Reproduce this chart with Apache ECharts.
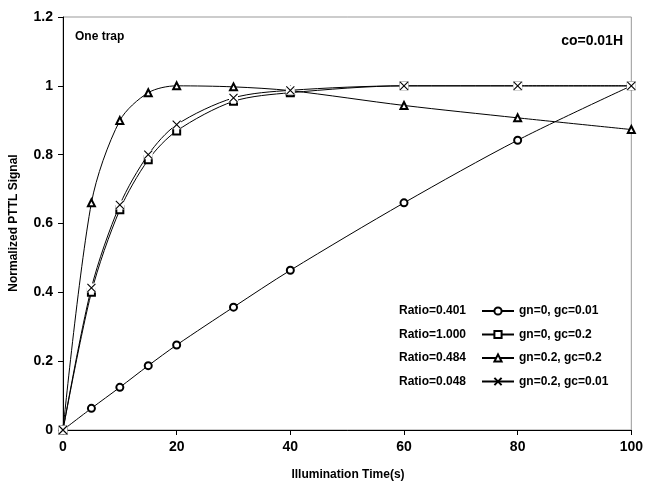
<!DOCTYPE html>
<html>
<head>
<meta charset="utf-8">
<script src="https://cdn.jsdelivr.net/npm/echarts@6/dist/echarts.min.js"></script>
<style>
  html, body { margin: 0; padding: 0; background: #fff; }
  #chart { width: 646px; height: 486px; }
</style>
</head>
<body>
<div id="chart"></div>
<script>
/* PTTL signal vs illumination time, one trap, four gn/gc combinations. */
const times = [0, 5, 10, 15, 20, 30, 40, 60, 80, 100];
const circleVals = [0, 0.063, 0.124, 0.187, 0.247, 0.357, 0.464, 0.66, 0.842, 1.0];
const squareVals = [0, 0.40, 0.64, 0.785, 0.869, 0.955, 0.98, 1.0, 1.0, 1.0];
const triangleVals = [0, 0.66, 0.899, 0.98, 1.0, 0.997, 0.986, 0.943, 0.907, 0.873];
const crossVals = [0, 0.413, 0.654, 0.80, 0.887, 0.965, 0.987, 1.0, 1.0, 1.0];
const seriesNames = ["gn=0, gc=0.01", "gn=0, gc=0.2", "gn=0.2, gc=0.2", "gn=0.2, gc=0.01"];
const ratios = ["Ratio=0.401", "Ratio=1.000", "Ratio=0.484", "Ratio=0.048"];
const yTicks = [0, 0.2, 0.4, 0.6, 0.8, 1, 1.2];

const FONT = "'Liberation Sans', Arial, sans-serif";
const CROSS = "path://M0,0L10,10M10,0L0,10";
const pair = (vals) => vals.map((v, i) => [times[i], v]);
const ROW0 = 311, ROWGAP = 23.5; // legend row centres

// empty* symbols stroke with itemStyle.color and fill white; the path cross needs fill/border split
const mk = (name, vals, symbol, size) => ({
  name, type: "line", data: pair(vals), smooth: 0.3,
  symbol, symbolSize: size, showSymbol: true,
  lineStyle: { color: "#000", width: 1 },
  itemStyle: symbol === CROSS
    ? { color: "#fff", borderColor: "#000", borderWidth: 1.1 }
    : { color: "#000", borderWidth: 1 },
  emphasis: { disabled: true },
});

const chart = echarts.init(document.getElementById("chart"), null, { renderer: "canvas" });
chart.setOption({
  animation: false,
  backgroundColor: "#fff",
  textStyle: { fontFamily: FONT },
  grid: { left: 63, right: 14, top: 17, bottom: 56, show: true, borderColor: "#999", borderWidth: 1 },
  xAxis: {
    type: "value", min: 0, max: 100, interval: 20,
    axisLine: { onZero: false, lineStyle: { color: "#000", width: 1 } },
    axisTick: { show: true, inside: false, length: 5, lineStyle: { color: "#000" } },
    axisLabel: { color: "#000", fontWeight: "bold", fontSize: 14, fontFamily: FONT, margin: 10 },
    splitLine: { show: false },
  },
  yAxis: {
    type: "value", min: 0, max: 1.2, interval: 0.2,
    axisLine: { show: true, lineStyle: { color: "#000", width: 1 } },
    axisTick: { show: true, inside: false, length: 5, lineStyle: { color: "#000" } },
    axisLabel: {
      color: "#000", fontWeight: "bold", fontSize: 14, fontFamily: FONT, margin: 10,
      formatter: (v) => { const t = yTicks.find((k) => Math.abs(k - v) < 1e-9); return String(t ?? v); },
    },
    splitLine: { show: false },
  },
  legend: {
    orient: "vertical", left: 481, top: ROW0 - 6, padding: 0, itemGap: ROWGAP - 12,
    itemWidth: 32, itemHeight: 9, data: seriesNames,
    textStyle: { color: "#000", fontWeight: "bold", fontSize: 12, fontFamily: FONT },
    inactiveColor: "#000", selectedMode: false,
  },
  graphic: [
    { type: "text", x: 75, y: 37, style: { text: "One trap", font: "bold 12px " + FONT, fill: "#000", verticalAlign: "middle" } },
    { type: "text", x: 623, y: 41, style: { text: "co=0.01H", font: "bold 14px " + FONT, fill: "#000", align: "right", verticalAlign: "middle" } },
    { type: "text", x: 348, y: 475, style: { text: "Illumination Time(s)", font: "bold 12px " + FONT, fill: "#000", align: "center", verticalAlign: "middle" } },
    { type: "text", x: 14, y: 223, rotation: Math.PI / 2, style: { text: "Normalized PTTL Signal", font: "bold 12px " + FONT, fill: "#000", align: "center", verticalAlign: "middle" } },
    ...ratios.map((r, i) => ({
      type: "text", x: 466, y: ROW0 + i * ROWGAP,
      style: { text: r, font: "bold 12px " + FONT, fill: "#000", align: "right", verticalAlign: "middle" },
    })),
  ],
  series: [
    mk(seriesNames[0], circleVals, "emptyCircle", 7),
    mk(seriesNames[1], squareVals, "emptyRect", 7),
    mk(seriesNames[2], triangleVals, "emptyTriangle", 7),
    // white backing behind the crosses, like the spreadsheet marker box
    { name: "crossBack", type: "line", data: pair(crossVals), symbol: "rect", symbolSize: 9,
      lineStyle: { opacity: 0 }, itemStyle: { color: "#fff" }, emphasis: { disabled: true }, silent: true },
    mk(seriesNames[3], crossVals, CROSS, 8),
  ],
});
</script>
</body>
</html>
